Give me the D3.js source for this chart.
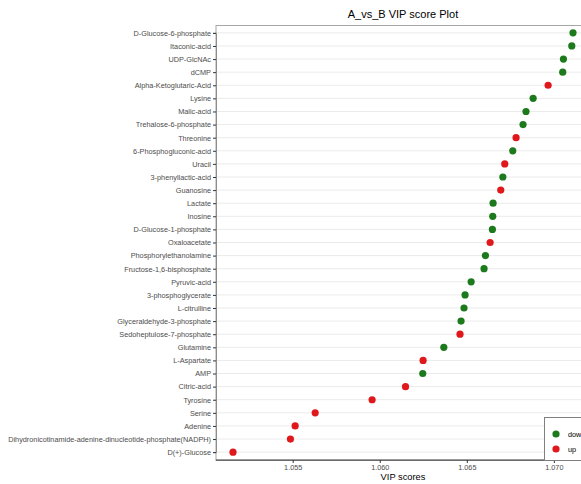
<!DOCTYPE html>
<html>
<head>
<meta charset="utf-8">
<script src="https://cdn.jsdelivr.net/npm/d3@7"></script>
<style>
  html, body { margin: 0; padding: 0; background: #fff; overflow: hidden; }
  svg { display: block; font-family: "Liberation Sans", Arial, sans-serif; }
</style>
</head>
<body>
<div id="chart"></div>
<script>
// Metabolites, top to bottom
const metabolites = [
  "D-Glucose-6-phosphate", "Itaconic-acid", "UDP-GlcNAc", "dCMP",
  "Alpha-Ketoglutaric-Acid", "Lysine", "Malic-acid", "Trehalose-6-phosphate",
  "Threonine", "6-Phosphogluconic-acid", "Uracil", "3-phenyllactic-acid",
  "Guanosine", "Lactate", "Inosine", "D-Glucose-1-phosphate", "Oxaloacetate",
  "Phosphorylethanolamine", "Fructose-1,6-bisphosphate", "Pyruvic-acid",
  "3-phosphoglycerate", "L-citrulline", "Glyceraldehyde-3-phosphate",
  "Sedoheptulose-7-phosphate", "Glutamine", "L-Aspartate", "AMP",
  "Citric-acid", "Tyrosine", "Serine", "Adenine",
  "Dihydronicotinamide-adenine-dinucleotide-phosphate(NADPH)", "D(+)-Glucose"
];

// VIP score per metabolite
const vipScores = [
  1.07110, 1.07103, 1.07055, 1.07051,
  1.06967, 1.06881, 1.06840, 1.06823,
  1.06783, 1.06764, 1.06718, 1.06707,
  1.06695, 1.06651, 1.06649, 1.06647, 1.06634,
  1.06607, 1.06599, 1.06525,
  1.06490, 1.06484, 1.06467,
  1.06461, 1.06368, 1.06249, 1.06247,
  1.06148, 1.05956, 1.05629, 1.05514,
  1.05487, 1.05157
];

// Regulation direction per metabolite
const regulation = [
  "down", "down", "down", "down",
  "up", "down", "down", "down",
  "up", "down", "up", "down",
  "up", "down", "down", "down", "up",
  "down", "down", "down",
  "down", "down", "down",
  "up", "down", "up", "down",
  "up", "up", "up", "up",
  "up", "up"
];

const xTicks = [1.055, 1.060, 1.065, 1.070];
const groups = ["down", "up"];
const groupColors = ["#1c7a1c", "#e0181c"];

const W = 581, H = 484;
const margin = { top: 25, left: 216, right: -9, bottom: 24 };
const x0 = margin.left, x1 = W - margin.right;
const y0 = margin.top, y1 = H - margin.bottom;
const tickFont = "7.3px";

const svg = d3.select("#chart").append("svg")
  .attr("width", W).attr("height", H);

const data = metabolites.map((m, i) => ({ name: m, vip: vipScores[i], group: regulation[i] }));

// continuous x with 5% expansion
const ext = d3.extent(vipScores);
const pad = (ext[1] - ext[0]) * 0.05;
const x = d3.scaleLinear().domain([ext[0] - pad, ext[1] + pad]).range([x0, x1]);

// discrete y with 0.6 unit expansion on each side
const n = metabolites.length;
const step = (y1 - y0) / (n - 1 + 1.2);
const y = d3.scalePoint().domain(metabolites)
  .range([y0 + 0.6 * step, y1 - 0.6 * step]);

const color = d3.scaleOrdinal().domain(groups).range(groupColors);

// horizontal grid
svg.append("g").selectAll("line").data(metabolites).join("line")
  .attr("x1", x0).attr("x2", x1)
  .attr("y1", d => y(d)).attr("y2", d => y(d))
  .attr("stroke", "#ebebeb").attr("stroke-width", 1);

// panel border
svg.append("rect")
  .attr("x", x0).attr("y", y0 + 0.5)
  .attr("width", x1 - x0).attr("height", y1 - y0)
  .attr("fill", "none").attr("stroke", "#a6a6a6").attr("stroke-width", 1);

// y axis
const yAxis = svg.append("g").attr("transform", `translate(${x0},0)`)
  .call(d3.axisLeft(y).tickSize(3).tickPadding(2));
yAxis.select(".domain").attr("stroke", "#8c8c8c");
yAxis.selectAll(".tick line").attr("stroke", "#333");
yAxis.selectAll(".tick text").attr("fill", "#4d4d4d").style("font-size", tickFont);

// x axis
const xAxis = svg.append("g").attr("transform", `translate(0,${y1})`)
  .call(d3.axisBottom(x).tickValues(xTicks).tickFormat(d3.format(".3f")).tickSize(3).tickPadding(2));
xAxis.select(".domain").attr("stroke", "#333").attr("d", `M${x0},0H${x1}`);
xAxis.selectAll(".tick line").attr("stroke", "#333");
xAxis.selectAll(".tick text").attr("fill", "#4d4d4d").style("font-size", tickFont);

// points
svg.append("g").selectAll("circle").data(data).join("circle")
  .attr("cx", d => x(d.vip)).attr("cy", d => y(d.name))
  .attr("r", 3.6).attr("fill", d => color(d.group));

// title
svg.append("text")
  .attr("x", (x0 + x1) / 2).attr("y", 18)
  .attr("text-anchor", "middle")
  .style("font-size", "11px").attr("fill", "#000")
  .text("A_vs_B VIP score Plot");

// x axis title
svg.append("text")
  .attr("x", (x0 + x1) / 2).attr("y", 480)
  .attr("text-anchor", "middle")
  .style("font-size", "9.3px").attr("fill", "#000")
  .text("VIP scores");

// legend inside the panel, bottom-right
const lg = svg.append("g").attr("transform", `translate(544,417)`);
lg.append("rect").attr("x", 0.5).attr("y", 0.5)
  .attr("width", 60).attr("height", y1 - 417)
  .attr("fill", "#fff").attr("stroke", "#7f7f7f").attr("stroke-width", 1);
const items = lg.selectAll("g.item").data(groups).join("g")
  .attr("class", "item")
  .attr("transform", (d, i) => `translate(12,${17 + i * 15})`);
items.append("circle").attr("r", 3.6).attr("fill", d => color(d));
items.append("text").attr("x", 12).attr("dy", "0.35em")
  .style("font-size", tickFont).attr("fill", "#000").text(d => d);
</script>
</body>
</html>
